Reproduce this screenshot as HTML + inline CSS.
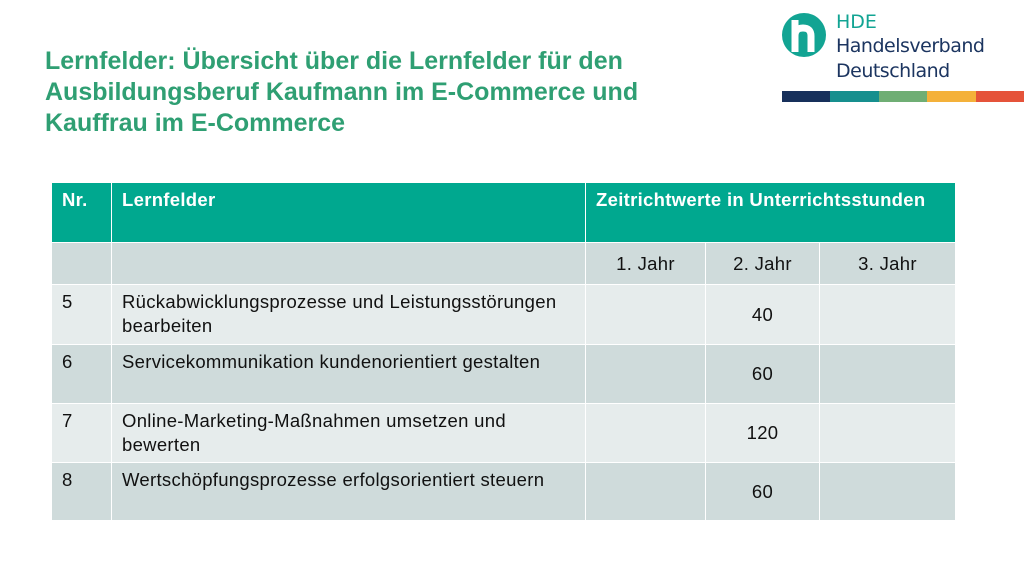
<!DOCTYPE html>
<html><head><meta charset="utf-8">
<style>
body{margin:0;width:1024px;height:576px;background:#fff;position:relative;overflow:hidden;font-family:"Liberation Sans",sans-serif;}
.abs{position:absolute;box-sizing:border-box;}
.title{left:45px;top:46px;color:#2f9f73;font-weight:bold;font-size:25px;line-height:31px;white-space:nowrap;}
.c{position:absolute;box-sizing:border-box;font-size:18.5px;letter-spacing:0.3px;color:#111;padding:5px 10px;line-height:24px;white-space:nowrap;}
.h{background:#00a88f;color:#fff;font-weight:bold;}
.s{background:#cfdbdb;}
.l{background:#e6ecec;}
.ctr{display:flex;align-items:center;justify-content:center;padding:0;}
</style></head><body>
<div class="abs title">Lernfelder: Übersicht über die Lernfelder für den<br>Ausbildungsberuf Kaufmann im E-Commerce und<br>Kauffrau im E-Commerce</div>

<div>
<svg class="abs" style="left:781px;top:12px" width="46" height="46" viewBox="0 0 46 46">
<circle cx="23" cy="23" r="22" fill="#12a493"/>
<path d="M14 8 L14 40 M14 24 Q14 16 22 16 Q30 16 30 24 L30 40" stroke="#fff" stroke-width="7" fill="none"/>
</svg>
<div class="abs" style="left:836px;top:10px;font-size:19px;color:#12a493;font-family:'DejaVu Sans',sans-serif;line-height:24px">HDE</div>
<div class="abs" style="left:836px;top:34px;font-size:19px;color:#1c3560;font-family:'DejaVu Sans',sans-serif;line-height:24px;letter-spacing:-0.5px">Handelsverband</div>
<div class="abs" style="left:836px;top:59px;font-size:19px;color:#1c3560;font-family:'DejaVu Sans',sans-serif;line-height:24px;letter-spacing:-0.5px">Deutschland</div>
<div class="abs" style="left:782px;top:91px;width:48px;height:11px;background:#17305b"></div>
<div class="abs" style="left:830px;top:91px;width:49px;height:11px;background:#168f8e"></div>
<div class="abs" style="left:879px;top:91px;width:48px;height:11px;background:#6fae74"></div>
<div class="abs" style="left:927px;top:91px;width:49px;height:11px;background:#f4b13a"></div>
<div class="abs" style="left:976px;top:91px;width:48px;height:11px;background:#e5533a"></div>
</div>

<div id="tbl"></div>
<script>
const cols=[52,111,585,705,819,955];
const rowsY=[183,242,284,344,403,462,520];
const nums=["5","6","7","8"];
const names=["Rückabwicklungsprozesse und Leistungsstörungen<br>bearbeiten","Servicekommunikation kundenorientiert gestalten","Online-Marketing-Maßnahmen umsetzen und<br>bewerten","Wertschöpfungsprozesse erfolgsorientiert steuern"];
const year1=["","","",""];
const year2=["40","60","120","60"];
const year3=["","","",""];
const tbl=document.getElementById('tbl');
function cell(c0,c1,r,cls,html,name){
  const d=document.createElement('div');
  d.className='c '+cls;
  d.style.left=(cols[c0]+(c0?1:0))+'px';
  d.style.width=(cols[c1]-cols[c0]-(c0?1:0))+'px';
  d.style.top=(rowsY[r]+(r?1:0))+'px';
  d.style.height=(rowsY[r+1]-rowsY[r]-(r?1:0))+'px';
  d.innerHTML=html;
  
  
  tbl.appendChild(d);
}
cell(0,1,0,'h','Nr.','header-nr');
cell(1,2,0,'h','Lernfelder','header-lernfelder');
cell(2,5,0,'h','Zeitrichtwerte in Unterrichtsstunden','header-zeitrichtwerte');
cell(0,1,1,'s','','subheader-empty-nr');
cell(1,2,1,'s','','subheader-empty-lernfelder');
cell(2,3,1,'s ctr','1. Jahr','subheader-jahr-1');
cell(3,4,1,'s ctr','2. Jahr','subheader-jahr-2');
cell(4,5,1,'s ctr','3. Jahr','subheader-jahr-3');
for(let i=0;i<nums.length;i++){
  const cls=i%2===0?'l':'s';
  const r=i+2;
  cell(0,1,r,cls,nums[i],'row-'+nums[i]+'-nr');
  cell(1,2,r,cls,names[i],'row-'+nums[i]+'-name');
  cell(2,3,r,cls+' ctr',year1[i],'row-'+nums[i]+'-jahr-1');
  cell(3,4,r,cls+' ctr',year2[i],'row-'+nums[i]+'-jahr-2');
  cell(4,5,r,cls+' ctr',year3[i],'row-'+nums[i]+'-jahr-3');
}
</script>
</body></html>
